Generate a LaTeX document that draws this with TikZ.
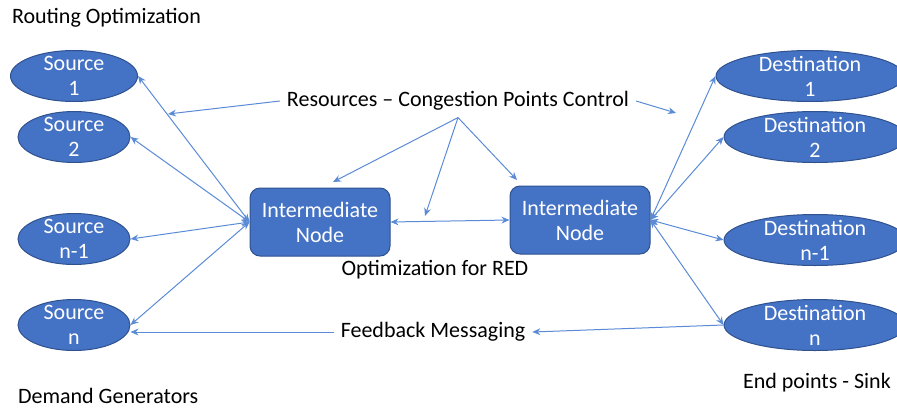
\documentclass[tikz,border=0pt]{standalone}
\usepackage{fontspec}
\setmainfont{Carlito}
\usetikzlibrary{shapes,arrows.meta,positioning}
\definecolor{nodeblue}{HTML}{4472C4}
\definecolor{edgeblue}{HTML}{2F528F}
\definecolor{arrowblue}{HTML}{5B8BD6}

\begin{document}
\begin{tikzpicture}[x=0.5pt,y=-0.5pt,
  font=\fontsize{11}{12.5}\selectfont,
  >={Stealth[length=4pt,width=3.4pt]},
  src/.style={ellipse,draw=edgeblue,fill=nodeblue,line width=0.5pt,inner sep=0pt,minimum width=56pt,minimum height=25.5pt},
  dst/.style={src,minimum width=91pt},
  mid/.style={rectangle,rounded corners=5pt,draw=edgeblue,fill=nodeblue,line width=0.5pt,text=white,align=center,minimum width=70pt,minimum height=34pt,inner sep=0pt},
  txt/.style={white,align=center,inner sep=0pt},
  link/.style={draw=arrowblue,line width=0.5pt}]
\useasboundingbox (0,0) rectangle (897,407);

% sources
\node[src,minimum width=63.5pt,label={[txt]center:Source\\1}] at (74,76) (s1) {};
\node[src,label={[txt]center:Source\\2}] at (74,137) (s2) {};
\node[src,label={[txt]center:Source\\n-1}] at (74,239) (s3) {};
\node[src,label={[txt]center:Source\\n}] at (74,325) (sn) {};

% intermediate nodes
\node[mid] at (320,222) (inL) {Intermediate\\Node};
\node[mid] at (580,220) (inR) {Intermediate\\Node};

% destinations
\node[dst,minimum width=94pt,label={[txt]center:Destination\\1}] at (810,76) (d1) {};
\node[dst,label={[txt]center:Destination\\2}] at (815,137) (d2) {};
\node[dst,label={[txt]center:Destination\\n-1}] at (815,240) (d3) {};
\node[dst,label={[txt]center:Destination\\n}] at (815,325) (dn) {};

% labels
\node[anchor=west] at (5,18) (title) {Routing Optimization};
\node[anchor=west] at (11,396) (demand) {Demand Generators};
\node at (817,383) (sink) {End points - Sink};
\node at (458,101) (res) {Resources -- Congestion Points Control};
\node at (435,270) (red) {Optimization for RED};
\node at (433,332) (fb) {Feedback Messaging};

\coordinate (c1) at (168,114);
\coordinate (c2) at (676,113);
\coordinate (c3) at (333,182);
\coordinate (c4) at (425,216);
\coordinate (c5) at (517,180);

\draw[link,->] (res.west) -- (c1);
\draw[link,->] (res.east) -- (c2);
\draw[link,->] (res.south) -- (c3);
\draw[link,->] (res.south) -- (c4);
\draw[link,->] (res.south) -- (c5);

\draw[link,<->] (inL.west) -- (s1.east);
\draw[link,<->] (inL.west) -- (s2.east);
\draw[link,<->] (inL.west) -- (s3.east);
\draw[link,<->] (inL.west) -- (sn.east);
\draw[link,<->] (inL.east) -- (inR.west);
\draw[link,<->] (inR.east) -- (d1.west);
\draw[link,<->] (inR.east) -- (d2.west);
\draw[link,<->] (inR.east) -- (d3.west);
\draw[link,<->] (inR.east) -- (dn.west);

\draw[link,->] (dn.west) -- (fb.east);
\draw[link,->] (fb.west) -- (sn.east |- fb.west);
\end{tikzpicture}
\end{document}
